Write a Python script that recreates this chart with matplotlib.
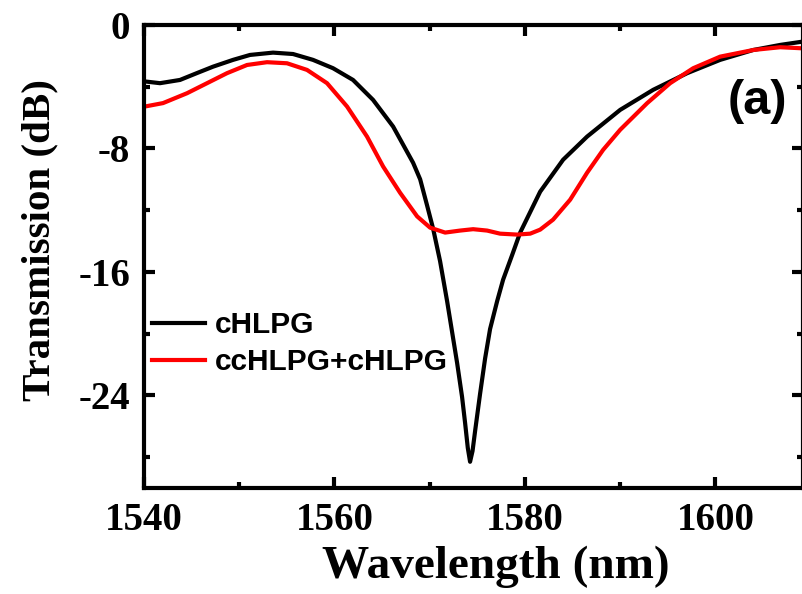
import matplotlib
matplotlib.use("Agg")
from matplotlib import pyplot as plt
from matplotlib.ticker import MultipleLocator

plt.rcParams['axes.unicode_minus'] = False

# data
wl_chlpg = [1540.28, 1541.68, 1543.78, 1545.54, 1547.25, 1549.35, 1551.13, 1553.55, 1555.65,
            1557.75, 1559.85, 1561.95, 1564.05, 1566.16, 1568.26, 1569.00, 1569.73, 1570.36,
            1571.09, 1571.83, 1572.88, 1573.40, 1573.72, 1574.00, 1574.24, 1574.50, 1574.77,
            1575.29, 1575.82, 1576.34, 1577.08, 1577.71, 1578.66, 1579.50, 1581.60, 1584.01,
            1586.53, 1590.00, 1593.47, 1597.04, 1600.50, 1603.97, 1606.81, 1609.12]
t_chlpg = [-3.67, -3.77, -3.56, -3.12, -2.70, -2.26, -1.94, -1.79, -1.88,
           -2.26, -2.80, -3.56, -4.85, -6.58, -8.93, -10.00, -11.70, -13.20,
           -15.30, -17.90, -21.90, -24.10, -25.80, -27.40, -28.30, -27.60, -26.30,
           -23.90, -21.60, -19.70, -17.90, -16.50, -14.90, -13.45, -10.80, -8.73,
           -7.23, -5.50, -4.20, -3.12, -2.26, -1.62, -1.29, -1.08]

wl_cc = [1540.11, 1542.00, 1544.52, 1546.62, 1548.72, 1550.82, 1552.92, 1555.02, 1557.12,
         1559.22, 1561.32, 1563.42, 1565.11, 1566.89, 1568.68, 1570.04, 1571.62, 1573.19,
         1574.56, 1576.03, 1577.39, 1579.18, 1580.55, 1581.60, 1582.96, 1584.75, 1586.53,
         1588.21, 1590.00, 1592.84, 1595.25, 1597.67, 1600.50, 1603.97, 1606.81, 1609.12]
t_cc = [-5.28, -5.06, -4.42, -3.77, -3.12, -2.59, -2.41, -2.48, -2.91,
        -3.77, -5.28, -7.23, -9.17, -10.87, -12.40, -13.13, -13.45, -13.32,
        -13.23, -13.32, -13.52, -13.58, -13.52, -13.26, -12.61, -11.32, -9.57,
        -8.09, -6.79, -5.06, -3.77, -2.80, -2.05, -1.62, -1.44, -1.51]

labels = ["cHLPG", "ccHLPG+cHLPG"]

serif = ["Liberation Serif", "DejaVu Serif"]
sans = ["Liberation Sans", "DejaVu Sans"]

fig = plt.figure(figsize=(8.02, 5.94), dpi=100)
ax = fig.add_axes([144 / 802, 1 - 488 / 594, 659 / 802, 463 / 594])

ax.plot(wl_chlpg, t_chlpg, color="black", lw=3, label=labels[0])
ax.plot(wl_cc, t_cc, color="red", lw=3, label=labels[1])

ax.set_xlim(1540, 1609.2)
ax.set_ylim(-30, 0)
ax.xaxis.set_major_locator(MultipleLocator(20))
ax.xaxis.set_minor_locator(MultipleLocator(10))
ax.yaxis.set_minor_locator(MultipleLocator(4))
ax.set_yticks([0, -8, -16, -24])

ax.tick_params(which="both", direction="in", top=True, right=True, width=3)
ax.tick_params(which="major", length=8, pad=10)
ax.tick_params(which="minor", length=4)
for s in ax.spines.values():
    s.set_linewidth(3)

for lab in ax.get_xticklabels() + ax.get_yticklabels():
    lab.set_family(serif)
    lab.set_fontweight("bold")
    lab.set_fontsize(28)

ax.set_xlabel("Wavelength (nm)", family=serif, fontweight="bold", fontsize=34)
ax.set_ylabel("Transmission (dB)", family=serif, fontweight="bold", fontsize=29.5)
ax.xaxis.set_label_coords(0.534, -0.125)
ax.yaxis.set_label_coords(-0.13, 0.536)

# legend sits in the lower-left part of the plot
leg = ax.legend(loc="upper left", bbox_to_anchor=(0.012, 0.382), frameon=False,
                prop={"family": sans, "weight": "bold", "size": 21.5},
                handlelength=1.77, handletextpad=0.33, labelspacing=0.3,
                borderpad=0.0, borderaxespad=0.0)

ax.text(0.931, 0.835, "(a)", transform=ax.transAxes, family=sans, fontweight="bold",
        fontsize=35, ha="center", va="center")

fig.savefig("out.png", dpi=100)
